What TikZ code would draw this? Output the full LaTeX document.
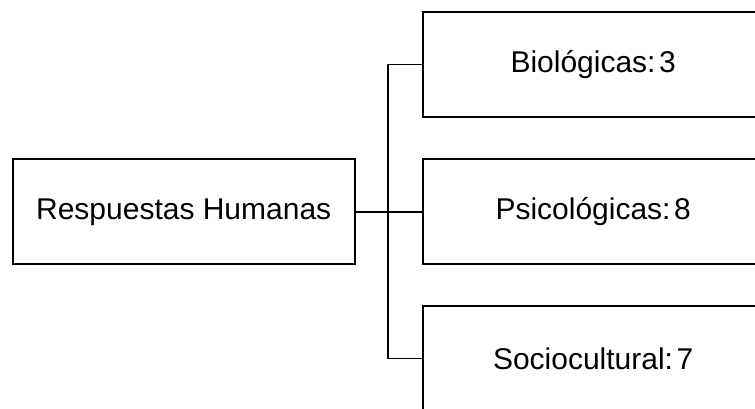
\documentclass[tikz,border=0pt]{standalone}
\usepackage{fontspec}
\setmainfont{Liberation Sans}
\usetikzlibrary{positioning}

\begin{document}
\begin{tikzpicture}[
  x=1pt, y=1pt,
  font=\fontsize{30}{36}\selectfont,
  cat/.style={draw=black, fill=white, line width=1.8pt,
              minimum width=342pt, minimum height=105pt,
              inner sep=0pt, align=center},
  link/.style={line width=1.8pt, draw=black},
]
\useasboundingbox (0,0) rectangle (755,409);
\clip (0,0) rectangle (755,409);

\node[cat] (hum) at (183.7,197.2) {Respuestas Humanas};

\node[cat, minimum width=341pt] (bio) at (593.2,344.5) {Biológicas:\hspace{0.12em}3};
\node[cat, minimum width=341pt] (psi) at (593.2,197.2) {Psicológicas:\hspace{0.12em}8};
\node[cat, minimum width=341pt] (soc) at (593.2,50.5) {Sociocultural:\hspace{0.12em}7};

\coordinate (trunk) at (388.3,197.2);

\draw[link] (hum.east) -- (psi.west);
\draw[link] (bio.west) -| (trunk) |- (soc.west);
\end{tikzpicture}
\end{document}
